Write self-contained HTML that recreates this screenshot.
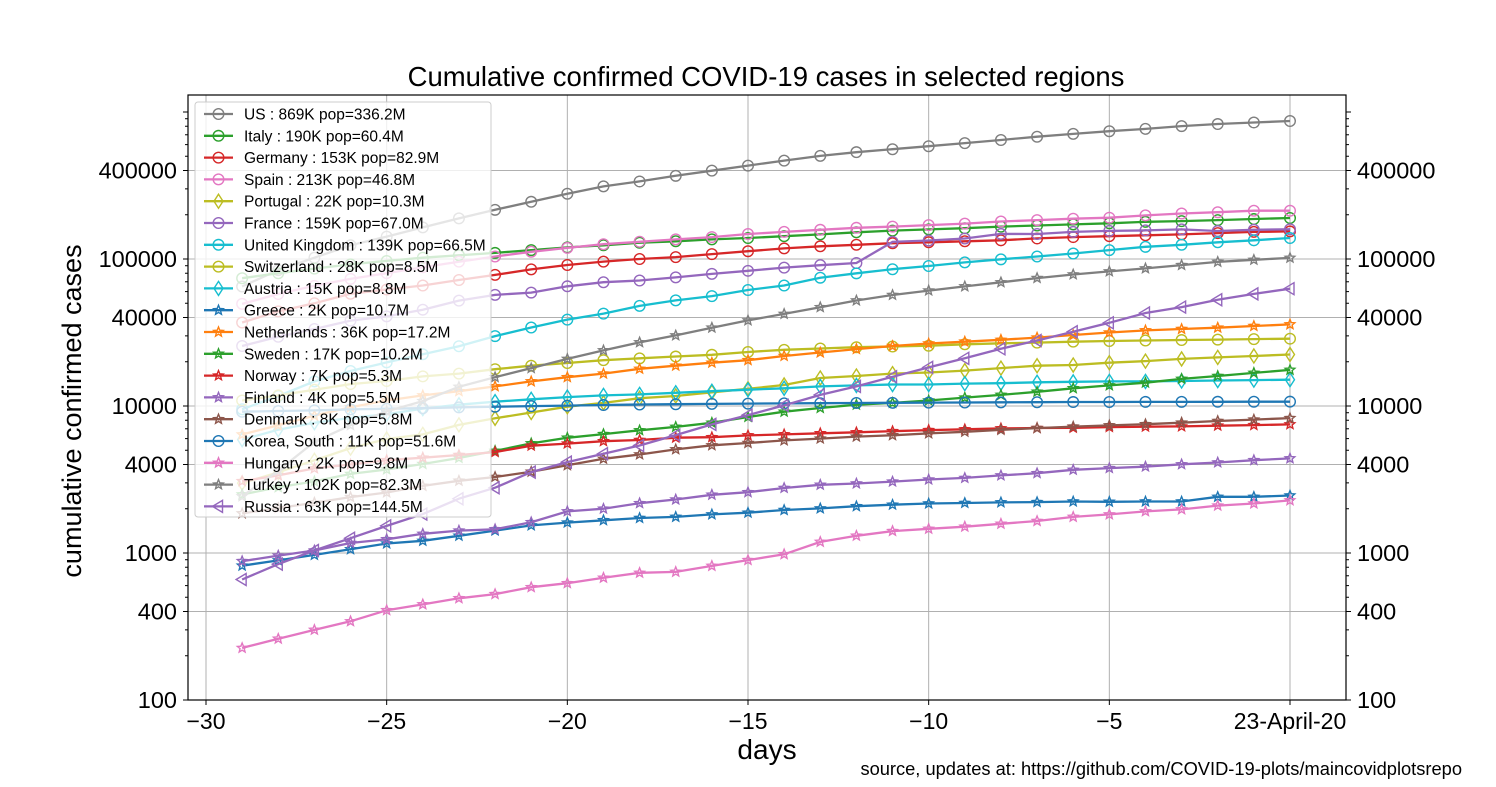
<!DOCTYPE html>
<html><head><meta charset="utf-8"><style>
body{margin:0;background:#fff}
svg text{font-family:"Liberation Sans","DejaVu Sans",sans-serif}
</style></head><body>
<svg id="c" style="position:absolute;left:0;top:0" width="1496" height="787" xmlns="http://www.w3.org/2000/svg"></svg>
<script>
const days=[];for(let d=-29;d<=0;d++)days.push(d);
const xTicks=[-30,-25,-20,-15,-10,-5,0];
const xTickLabels=["−30","−25","−20","−15","−10","−5","23-April-20"];
const yTicks=[100,400,1000,4000,10000,40000,100000,400000];
const yTickLabels=["100","400","1000","4000","10000","40000","100000","400000"];
const names=["US : 869K pop=336.2M","Italy : 190K pop=60.4M","Germany : 153K pop=82.9M","Spain : 213K pop=46.8M","Portugal : 22K pop=10.3M","France : 159K pop=67.0M","United Kingdom : 139K pop=66.5M","Switzerland : 28K pop=8.5M","Austria : 15K pop=8.8M","Greece : 2K pop=10.7M","Netherlands : 36K pop=17.2M","Sweden : 17K pop=10.2M","Norway : 7K pop=5.3M","Finland : 4K pop=5.5M","Denmark : 8K pop=5.8M","Korea, South : 11K pop=51.6M","Hungary : 2K pop=9.8M","Turkey : 102K pop=82.3M","Russia : 63K pop=144.5M"];
const colors=["#7f7f7f","#2ca02c","#d62728","#e377c2","#bcbd22","#9467bd","#17becf","#bcbd22","#17becf","#1f77b4","#ff7f0e","#2ca02c","#d62728","#9467bd","#8c564b","#1f77b4","#e377c2","#7f7f7f","#9467bd"];
const markers=["o","o","o","o","d","o","o","o","d","*","*","*","*","*","*","o","*","*","<"];
// values in thousands
const usK=[65,84,102,124,142,164,189,216,245,278,312,337,368,399,432,467,503,533,558,585,614,645,679,710,740,768,802,828,849,869];
const italyK=[74,80,86,92,97,102,106,110,115,120,124,129,132,136,139,143,147,152,156,159,162,166,169,172,175,179,181,184,187,190];
const germanyK=[37,44,50,58,62,66,72,78,85,91,96,100,103,108,113,118,122,125,128,130,132,134,138,141,143,145,147,150,153,154];
const spainK=[49.5,57.8,65.7,73.2,80.1,87.9,95.9,104,112,119,126,131,136,141,148,153,158,163,166,170,174,180,184,188,191,198,204,208,213,213];
const portugalK=[2.99,3.54,4.27,5.17,5.96,6.41,7.44,8.25,9.03,9.89,10.5,11.3,11.7,12.4,13.1,13.9,15.5,16.0,16.6,16.9,17.4,18.1,18.8,19.0,19.7,20.2,20.9,21.4,21.9,22.4];
const franceK=[25.6,29.6,33.4,38.1,40.7,45.2,52.1,57.0,59.1,65.2,69.5,71.4,75.0,79.2,83.1,87.4,90.8,94.0,130.7,133.7,137.9,148.1,148.0,153.0,155.4,156.5,159.0,155.0,158.1,159.3];
const ukK=[9.5,11.7,14.7,17.3,19.8,22.5,25.5,29.9,34.2,38.7,42.5,48.0,52.3,55.9,61.5,66.0,74.6,79.9,85.2,89.6,94.8,99.5,104,109,115,121,125,130,134,139];
const switzK=[10.9,11.8,12.9,14.1,14.8,15.9,16.6,17.8,18.8,19.6,20.5,21.1,21.7,22.3,23.3,24.1,24.6,25.1,25.4,25.7,26.3,26.7,27.0,27.4,27.7,27.9,28.1,28.3,28.5,28.7];
const austriaK=[5.9,6.9,7.7,8.3,8.8,9.6,10.2,10.7,11.1,11.5,11.8,12.0,12.3,12.6,12.9,13.2,13.6,13.8,14.0,14.0,14.2,14.3,14.5,14.6,14.7,14.7,14.8,14.9,15.0,15.1];
const greeceK=[0.82,0.89,0.97,1.06,1.16,1.21,1.31,1.42,1.54,1.61,1.67,1.73,1.76,1.83,1.88,1.96,2.01,2.08,2.13,2.17,2.19,2.21,2.22,2.24,2.23,2.24,2.24,2.41,2.41,2.46];
const nethK=[6.4,7.4,8.6,9.8,10.9,11.8,12.6,13.6,14.7,15.7,16.6,17.9,18.8,19.7,20.5,21.9,23.1,24.4,25.6,26.6,27.4,28.2,29.2,30.4,31.6,32.7,33.4,34.1,35.0,35.9];
const swedenK=[2.5,2.8,3.07,3.45,3.7,4.03,4.43,4.95,5.57,6.08,6.44,6.83,7.21,7.69,8.42,9.14,9.69,10.2,10.5,10.9,11.4,11.9,12.5,13.2,13.8,14.4,15.3,16.0,16.8,17.6];
const norwayK=[3.08,3.37,3.76,4.0,4.28,4.45,4.64,4.86,5.37,5.55,5.76,5.87,6.09,6.13,6.31,6.41,6.52,6.62,6.74,6.86,6.94,7.04,7.08,7.11,7.19,7.23,7.26,7.35,7.41,7.5];
const finlandK=[0.88,0.96,1.04,1.17,1.24,1.35,1.42,1.45,1.62,1.92,2.0,2.18,2.31,2.49,2.59,2.77,2.91,2.97,3.06,3.16,3.24,3.37,3.49,3.68,3.78,3.87,4.01,4.13,4.28,4.4];
const denmarkK=[1.86,2.02,2.2,2.4,2.58,2.86,3.1,3.29,3.57,3.95,4.37,4.68,5.07,5.4,5.6,5.83,6.0,6.19,6.32,6.51,6.68,6.88,7.07,7.24,7.38,7.52,7.7,7.91,8.08,8.27];
const koreaK=[9.14,9.24,9.33,9.48,9.58,9.66,9.79,9.89,9.98,10.06,10.16,10.24,10.28,10.33,10.38,10.42,10.45,10.48,10.51,10.54,10.56,10.59,10.61,10.64,10.65,10.66,10.67,10.68,10.69,10.70];
const hungaryK=[0.226,0.261,0.300,0.343,0.408,0.447,0.492,0.525,0.585,0.623,0.678,0.733,0.744,0.817,0.895,0.980,1.19,1.31,1.41,1.46,1.51,1.58,1.65,1.76,1.83,1.92,1.98,2.10,2.17,2.28];
const turkeyK=[2.43,3.63,5.7,7.4,9.2,10.8,13.5,15.7,18.1,20.9,23.9,27.1,30.2,34.1,38.2,42.3,47.0,52.2,56.9,61.0,65.1,69.4,74.2,78.5,82.3,86.3,90.9,95.6,98.7,101.8];
const russiaK=[0.66,0.84,1.04,1.26,1.53,1.84,2.34,2.78,3.55,4.15,4.73,5.39,6.34,7.5,8.67,10.1,11.9,13.6,15.8,18.3,21.1,24.5,27.9,32.0,36.8,42.9,47.1,52.8,57.9,62.8];
const series=[usK,italyK,germanyK,spainK,portugalK,franceK,ukK,switzK,austriaK,greeceK,nethK,swedenK,norwayK,finlandK,denmarkK,koreaK,hungaryK,turkeyK,russiaK];

const L=188,R=1346,T=95,B=700;
const X=d=>206+(d+30)*(1290-206)/30;
const Y=v=>B-(Math.log10(v)-2)*147;
const svg=document.getElementById('c');
const NS='http://www.w3.org/2000/svg';
function el(tag,attrs,parent){const e=document.createElementNS(NS,tag);for(const k in attrs)e.setAttribute(k,attrs[k]);(parent||svg).appendChild(e);return e;}

const grid=el('g',{});


xTicks.forEach(t=>{el('line',{x1:X(t),x2:X(t),y1:T,y2:B,stroke:'#b0b0b0','stroke-width':1},grid);});
yTicks.forEach(t=>{el('line',{x1:L,x2:R,y1:Y(t),y2:Y(t),stroke:'#b0b0b0','stroke-width':1},grid);});

function markerPath(m,x,y){
  if(m==='d'){const w=4.5,h=7;return `M${x},${y-h}L${x+w},${y}L${x},${y+h}L${x-w},${y}Z`;}
  if(m==='<'){return `M${x-6},${y}L${x+4},${y-6}L${x+4},${y+6}Z`;}
  if(m==='*'){let p='';for(let i=0;i<10;i++){const r=i%2?2.2:5;const a=-Math.PI/2+i*Math.PI/5;p+=(i?'L':'M')+(x+r*Math.cos(a)).toFixed(2)+','+(y+r*Math.sin(a)).toFixed(2);}return p+'Z';}
}
function drawMarker(m,x,y,c,g){
  if(m==='o')return el('circle',{cx:x,cy:y,r:5.3,fill:'none',stroke:c,'stroke-width':1.4},g);
  return el('path',{d:markerPath(m,x,y),fill:'none',stroke:c,'stroke-width':1.4},g);
}
const clip=el('clipPath',{id:'pc'});el('rect',{x:L,y:T,width:R-L,height:B-T},clip);
series.forEach((vals,i)=>{
  const g=el('g',{'clip-path':'url(#pc)'});
  
  
  const pts=vals.map((v,j)=>X(days[j]).toFixed(1)+','+Y(v*1000).toFixed(1)).join(' ');
  el('polyline',{points:pts,fill:'none',stroke:colors[i],'stroke-width':2.3},g);
  vals.forEach((v,j)=>drawMarker(markers[i],X(days[j]),Y(v*1000),colors[i],g));
});

const frame=el('rect',{x:L,y:T,width:R-L,height:B-T,fill:'none',stroke:'#000','stroke-width':1.2});



const ax=el('g',{});


xTicks.forEach((t,i)=>{
  el('line',{x1:X(t),x2:X(t),y1:B,y2:B+5,stroke:'#000'},ax);
  const tx=el('text',{x:X(t),y:B+29,'font-size':23,'text-anchor':'middle'},ax);tx.textContent=xTickLabels[i];
  
  
});
for(let e=2;e<7;e++)for(let k=1;k<10;k++){const v=k*Math.pow(10,e);if(Y(v)<T)continue;const len=k===1?5:3;
  el('line',{x1:L-len,x2:L,y1:Y(v),y2:Y(v),stroke:'#000'},ax);el('line',{x1:R,x2:R+len,y1:Y(v),y2:Y(v),stroke:'#000'},ax);}
yTicks.forEach((t,i)=>{
  el('line',{x1:L-5,x2:L,y1:Y(t),y2:Y(t),stroke:'#000'},ax);
  el('line',{x1:R,x2:R+5,y1:Y(t),y2:Y(t),stroke:'#000'},ax);
  const a=el('text',{x:L-11,y:Y(t)+8,'font-size':23.5,'text-anchor':'end'},ax);a.textContent=yTickLabels[i];
  
  
  const b=el('text',{x:R+11,y:Y(t)+8,'font-size':23.5},ax);b.textContent=yTickLabels[i];
  
  
});

const lg=el('g',{});


el('rect',{x:195,y:102,width:296,height:415,rx:3,fill:'#fff','fill-opacity':0.8,stroke:'#cccccc'},lg);
names.forEach((n,i)=>{
  const y=114+i*21.8;
  const e=el('g',{},lg);
  
  
  el('line',{x1:204,x2:233,y1:y,y2:y,stroke:colors[i],'stroke-width':2.3},e);
  drawMarker(markers[i],218.5,y,colors[i],e);
  const t=el('text',{x:244,y:y+5.5,'font-size':15.5},e);t.textContent=n;
});
</script>
<svg style="position:absolute;left:0;top:0" width="1496" height="787" xmlns="http://www.w3.org/2000/svg">
<text x="766" y="86" font-size="27.5" text-anchor="middle" font-family="Liberation Sans, sans-serif">Cumulative confirmed COVID-19 cases in selected regions</text>
<text x="767" y="759" font-size="28" text-anchor="middle" font-family="Liberation Sans, sans-serif">days</text>
<text transform="translate(81,411) rotate(-90)" font-size="27" text-anchor="middle" font-family="Liberation Sans, sans-serif">cumulative confirmed cases</text>
<text x="1462" y="775" font-size="18.3" text-anchor="end" font-family="Liberation Sans, sans-serif">source, updates at: https://github.com/COVID-19-plots/maincovidplotsrepo</text>
</svg>
</body></html>
